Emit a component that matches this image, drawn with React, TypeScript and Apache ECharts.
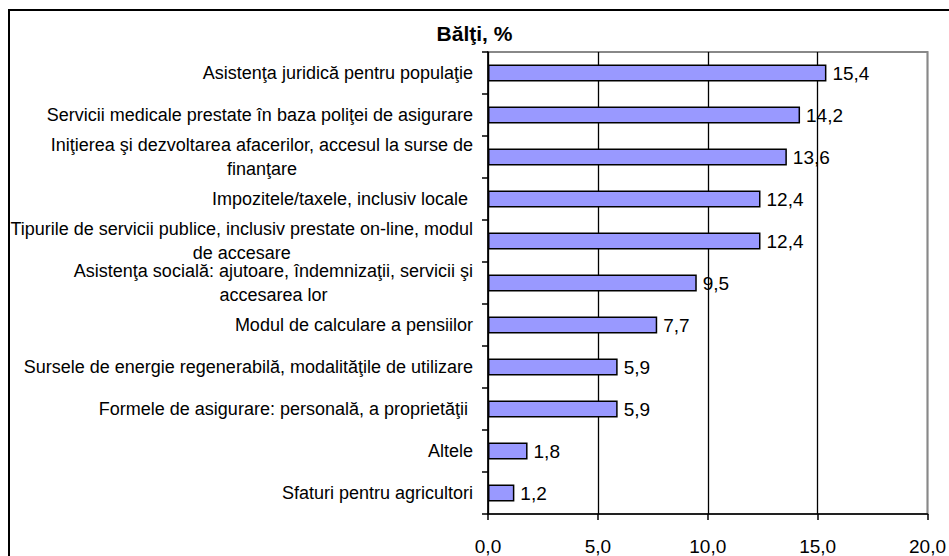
import React, { useEffect, useRef } from "react";
import * as echarts from "echarts";

const title = "Bălţi, %";
const categories = [
  "Asistenţa juridică pentru populaţie",
  "Servicii medicale prestate în baza poliţei de asigurare",
  "Iniţierea şi dezvoltarea afacerilor, accesul la surse de\nfinanţare",
  "Impozitele/taxele, inclusiv locale ",
  "Tipurile de servicii publice, inclusiv prestate on-line, modul\nde accesare",
  "Asistenţa socială: ajutoare, îndemnizaţii, servicii şi\naccesarea lor",
  "Modul de calculare a pensiilor",
  "Sursele de energie regenerabilă, modalităţile de utilizare",
  "Formele de asigurare: personală, a proprietăţii ",
  "Altele",
  "Sfaturi pentru agricultori",
];
const values = [15.4, 14.2, 13.6, 12.4, 12.4, 9.5, 7.7, 5.9, 5.9, 1.8, 1.2];
const xMin = 0;
const xMax = 20;
const xInterval = 5;

const FONT = '"Liberation Sans", Arial, sans-serif';
const fmt = (v: number) => v.toFixed(1).replace(".", ",");

export default function App() {
  const ref = useRef<HTMLDivElement>(null);
  useEffect(() => {
    if (!ref.current) return;
    document.body.style.overflow = "hidden";
    const chart = echarts.init(ref.current, undefined, { renderer: "svg" });
    chart.setOption({
      animation: false,
      backgroundColor: "#ffffff",
      title: {
        text: title,
        left: "center",
        top: 18,
        textStyle: { fontFamily: FONT, fontSize: 21, fontWeight: "bold", color: "#000" },
      },
      graphic: [
        {
          type: "rect",
          shape: { x: 9, y: 10, width: 1000, height: 600 },
          style: { fill: "none", stroke: "#000", lineWidth: 2 },
          silent: true,
          z: 100,
        },
      ],
      grid: {
        left: 488,
        top: 52,
        width: 442,
        height: 462,
        show: true,
        borderColor: "#888",
        borderWidth: 2,
        backgroundColor: "#fff",
      },
      xAxis: {
        type: "value",
        min: xMin,
        max: xMax,
        interval: xInterval,
        axisLine: { show: true, lineStyle: { color: "#000", width: 1.5 } },
        axisTick: { show: true, length: 6, lineStyle: { color: "#000", width: 1.5 } },
        axisLabel: {
          formatter: (v: number) => fmt(v),
          fontFamily: FONT,
          fontSize: 19,
          color: "#000",
          margin: 23,
        },
        splitLine: {
          show: true,
          lineStyle: { color: ["#000", "#000", "#000", "#000", "#888"], width: 1.3 },
        },
      },
      yAxis: {
        type: "category",
        inverse: true,
        data: categories,
        axisLine: { show: true, lineStyle: { color: "#000", width: 1.5 } },
        axisTick: { show: true, length: 6, lineStyle: { color: "#000", width: 1.5 } },
        axisLabel: {
          margin: 15,
          interval: 0,
          formatter: (v: string) =>
            v
              .split("\n")
              .map((l) => `{c|${l}}`)
              .join("\n"),
          rich: {
            c: {
              align: "center",
              fontFamily: FONT,
              fontSize: 18,
              color: "#000",
              lineHeight: 24,
            },
          },
        },
        splitLine: { show: false },
      },
      series: [
        {
          type: "bar",
          data: values,
          barWidth: 17,
          itemStyle: { color: "#9999FF", borderColor: "#000", borderWidth: 1.5 },
          label: {
            show: true,
            position: "right",
            distance: 6,
            formatter: (p: any) => fmt(p.value),
            fontFamily: FONT,
            fontSize: 19,
            color: "#000",
          },
        },
      ],
    });
    return () => chart.dispose();
  }, []);
  return (
    <div
      ref={ref}
      style={{ position: "absolute", left: 0, top: 0, width: 949, height: 556 }}
    />
  );
}
